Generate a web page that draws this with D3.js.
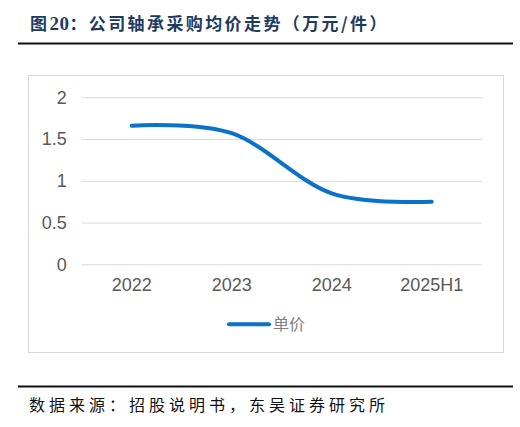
<!DOCTYPE html>
<html>
<head>
<meta charset="utf-8">
<script src="https://cdn.jsdelivr.net/npm/d3@7"></script>
<style>
	html, body { margin: 0; padding: 0; background: #fff; }
	svg { display: block; }
</style>
</head>
<body>
<script>
	// datos del gráfico
	var categories = ["2022", "2023", "2024", "2025H1"];
	var seriesName = "单价";
	var unitPrice = [1.66, 1.57, 0.85, 0.75];
	var yTicks = [0, 0.5, 1, 1.5, 2];
	var titleParts = ["图", "20", "：公司轴承采购均价走势（万元/件）"];
	var sourceText = "数据来源：招股说明书，东吴证券研究所";

	var width = 520,
		height = 427,
		plot = { left: 81.7, right: 481.7, top: 97.3, bottom: 264.3 };

	var svg = d3.select("body").append("svg")
		.attr("width", width)
		.attr("height", height);

	// título
	var title = svg.append("text")
		.attr("x", 30)
		.attr("y", 30)
		.attr("fill", "#1f3a5f")
		.attr("font-family", "'Noto Sans CJK SC', sans-serif")
		.attr("font-weight", "bold")
		.attr("font-size", 17)
		.attr("letter-spacing", 2.4);

	title.selectAll("tspan")
		.data(titleParts)
		.enter().append("tspan")
		.attr("font-family", function(d, i) {
			return i === 1 ? "'Liberation Serif', serif" : null;
		})
		.attr("font-size", function(d, i) { return i === 1 ? 19 : null; })
		.attr("letter-spacing", function(d, i) { return i === 1 ? 0.5 : null; })
		.text(function(d) { return d; });

	svg.append("line")
		.attr("x1", 18).attr("x2", 513)
		.attr("y1", 43.5).attr("y2", 43.5)
		.attr("stroke", "#111")
		.attr("stroke-width", 2);

	// marco del gráfico
	svg.append("rect")
		.attr("x", 28.5).attr("y", 75.5)
		.attr("width", 475).attr("height", 277)
		.attr("fill", "none")
		.attr("stroke", "#d9d9d9")
		.attr("stroke-width", 1);

	var x = d3.scaleBand()
		.domain(categories)
		.range([plot.left, plot.right]);

	var y = d3.scaleLinear()
		.domain([0, 2])
		.range([plot.bottom, plot.top]);

	// rejilla + eje y
	var yAxis = svg.append("g")
		.attr("transform", "translate(" + plot.left + ",0)")
		.call(d3.axisLeft(y)
			.tickValues(yTicks)
			.tickFormat(function(d) { return String(d); })
			.tickSize(-(plot.right - plot.left))
			.tickPadding(15));

	yAxis.select(".domain").remove();
	yAxis.selectAll(".tick line")
		.attr("stroke", "#d9d9d9")
		.attr("stroke-width", 1);
	yAxis.selectAll(".tick text")
		.attr("fill", "#595959")
		.attr("font-family", "'Liberation Sans', Arial, sans-serif")
		.attr("font-size", 18);

	// eje x
	var xAxis = svg.append("g")
		.attr("transform", "translate(0," + plot.bottom + ")")
		.call(d3.axisBottom(x).tickSize(0).tickPadding(14));

	xAxis.select(".domain").remove();
	xAxis.selectAll(".tick text")
		.attr("fill", "#595959")
		.attr("font-family", "'Liberation Sans', Arial, sans-serif")
		.attr("font-size", 18);

	// línea suavizada
	var line = d3.line()
		.x(function(d, i) { return x(categories[i]) + x.bandwidth() / 2; })
		.y(function(d) { return y(d); })
		.curve(d3.curveCatmullRom.alpha(0));

	svg.append("path")
		.datum(unitPrice)
		.attr("d", line)
		.attr("fill", "none")
		.attr("stroke", "#0a72c9")
		.attr("stroke-width", 4)
		.attr("stroke-linecap", "round")
		.attr("stroke-linejoin", "round");

	// leyenda
	var legend = svg.append("g")
		.attr("transform", "translate(228,324.3)");

	legend.append("line")
		.attr("x1", 1).attr("x2", 41)
		.attr("y1", 0).attr("y2", 0)
		.attr("stroke", "#0a72c9")
		.attr("stroke-width", 4)
		.attr("stroke-linecap", "round");

	legend.append("text")
		.attr("x", 45)
		.attr("y", 6)
		.attr("fill", "#7f7f7f")
		.attr("font-family", "'Noto Sans CJK SC', sans-serif")
		.attr("font-size", 16)
		.text(seriesName);

	// fuente
	svg.append("line")
		.attr("x1", 18).attr("x2", 513)
		.attr("y1", 386.5).attr("y2", 386.5)
		.attr("stroke", "#111")
		.attr("stroke-width", 2);

	svg.append("text")
		.attr("x", 29)
		.attr("y", 411)
		.attr("fill", "#111")
		.attr("font-family", "'Noto Sans CJK SC', sans-serif")
		.attr("font-size", 16)
		.attr("letter-spacing", 4)
		.text(sourceText);
</script>
</body>
</html>
